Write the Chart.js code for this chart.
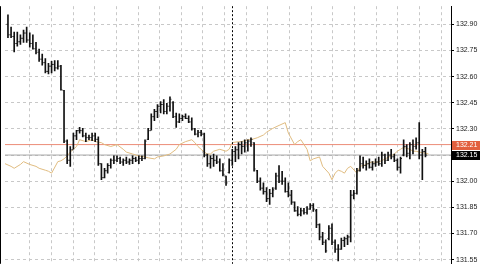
<!DOCTYPE html>
<html>
<head>
<meta charset="utf-8">
<script src="https://cdn.jsdelivr.net/npm/chart.js@4.4.0/dist/chart.umd.min.js"></script>
<style>
html,body{margin:0;padding:0;background:#fff;}
canvas{display:block;}
</style>
</head>
<body>
<canvas id="myChart" width="480" height="270"></canvas>
<script>
// OHLC bars, one per index
const highs = [132.955,132.884,132.856,132.856,132.840,132.867,132.884,132.851,132.840,132.796,
132.758,132.730,132.703,132.676,132.687,132.692,132.692,132.665,132.522,132.238,
132.199,132.276,132.292,132.309,132.303,132.276,132.265,132.276,132.276,132.254,
132.101,132.074,132.101,132.128,132.145,132.145,132.139,132.128,132.139,132.128,
132.145,132.139,132.145,132.145,132.238,132.303,132.386,132.413,132.440,132.457,
132.468,132.446,132.484,132.457,132.391,132.386,132.380,132.386,132.375,132.364,
132.303,132.292,132.292,132.276,132.156,132.145,132.156,132.145,132.128,132.101,
132.030,132.128,132.183,132.199,132.221,132.227,132.238,132.238,132.249,132.221,
132.063,132.019,131.991,131.964,131.953,131.964,132.046,132.090,132.057,132.019,
131.991,131.948,131.882,131.855,131.844,131.844,131.855,131.871,131.871,131.838,
131.756,131.707,131.663,131.745,131.756,131.663,131.636,131.674,131.680,131.691,
131.948,131.948,132.074,132.145,132.139,132.117,132.128,132.112,132.128,132.139,
132.167,132.156,132.167,132.183,132.156,132.128,132.139,132.238,132.210,132.221,
132.238,132.249,132.336,132.183,132.194];

const lows = [132.823,132.823,132.741,132.774,132.785,132.796,132.796,132.769,132.758,132.730,
132.687,132.665,132.621,132.615,132.621,132.632,132.643,132.522,132.221,132.101,
132.085,132.183,132.238,132.276,132.254,132.227,132.238,132.232,132.227,132.090,
132.008,132.019,132.046,132.074,132.101,132.112,132.101,132.090,132.101,132.096,
132.101,132.112,132.101,132.117,132.128,132.238,132.292,132.347,132.364,132.391,
132.386,132.386,132.402,132.364,132.309,132.336,132.347,132.358,132.336,132.292,
132.265,132.254,132.260,132.139,132.085,132.074,132.085,132.101,132.057,132.030,
131.975,132.046,132.090,132.112,132.128,132.156,132.167,132.172,132.199,132.057,
131.991,131.948,131.926,131.882,131.866,131.910,131.953,131.991,131.981,131.937,
131.910,131.866,131.827,131.800,131.800,131.811,131.811,131.838,131.827,131.734,
131.663,131.636,131.592,131.663,131.636,131.592,131.543,131.608,131.625,131.636,
131.652,131.898,131.926,132.057,132.074,132.063,132.074,132.063,132.085,132.090,
132.085,132.101,132.117,132.128,132.112,132.063,132.046,132.145,132.139,132.128,
132.156,132.183,132.128,132.008,132.139];

const opens = [132.90,132.84,132.83,132.79,132.80,132.82,132.85,132.81,132.79,132.76,
132.74,132.70,132.68,132.63,132.66,132.67,132.65,132.66,132.52,132.23,
132.12,132.18,132.26,132.29,132.29,132.26,132.25,132.25,132.26,132.24,
132.10,132.02,132.06,132.09,132.12,132.12,132.13,132.11,132.12,132.11,
132.12,132.13,132.12,132.13,132.13,132.24,132.29,132.37,132.40,132.43,
132.44,132.40,132.43,132.45,132.37,132.34,132.36,132.37,132.36,132.34,
132.30,132.27,132.28,132.27,132.15,132.10,132.13,132.12,132.11,132.06,
132.03,132.05,132.12,132.17,132.18,132.21,132.20,132.22,132.23,132.22,
132.06,132.00,131.96,131.94,131.90,131.93,131.96,132.03,132.00,132.00,
131.94,131.92,131.88,131.83,131.81,131.83,131.82,131.84,131.86,131.83,
131.75,131.68,131.65,131.67,131.73,131.65,131.61,131.61,131.66,131.67,
131.68,131.92,131.93,132.06,132.10,132.09,132.10,132.08,132.10,132.11,
132.10,132.15,132.12,132.15,132.14,132.12,132.08,132.15,132.20,132.16,
132.21,132.20,132.22,132.15,132.17];

const closes = [132.84,132.83,132.79,132.80,132.82,132.85,132.81,132.79,132.76,132.74,
132.70,132.68,132.63,132.66,132.67,132.65,132.66,132.525,132.23,132.12,
132.18,132.26,132.29,132.29,132.26,132.25,132.25,132.26,132.24,132.10,
132.02,132.06,132.09,132.12,132.12,132.13,132.11,132.12,132.11,132.12,
132.13,132.12,132.13,132.13,132.23,132.29,132.37,132.40,132.43,132.44,
132.40,132.43,132.47,132.37,132.34,132.36,132.37,132.36,132.34,132.30,
132.27,132.28,132.27,132.15,132.10,132.13,132.12,132.11,132.06,132.04,
131.99,132.12,132.17,132.18,132.21,132.20,132.22,132.23,132.24,132.07,
132.00,131.96,131.94,131.90,131.93,131.95,132.03,132.00,132.00,131.94,
131.92,131.88,131.83,131.81,131.83,131.82,131.84,131.86,131.84,131.75,
131.68,131.65,131.60,131.73,131.65,131.61,131.61,131.66,131.67,131.68,
131.92,131.93,132.06,132.10,132.09,132.10,132.08,132.10,132.11,132.10,
132.15,132.12,132.15,132.14,132.12,132.08,132.13,132.20,132.16,132.21,
132.20,132.22,132.15,132.17,132.15];

// overlay line (second symbol / indicator)
const lineIdx = [-1,1,2,4,5,7,9,10,12,13,14,16,17,18,19,20,22,23,25,27,28,30,31,33,35,37,38,40,42,44,
45,47,48,50,52,54,55,57,59,60,61,63,64,65,66,68,70,71,72,74,75,77,78,80,82,83,85,87,89,90,
92,93,94,96,97,98,100,101,103,104,105,106,107,108,109,110,112,113,115,117,118,120,121,123,124,125,126,127,129,130,
131,132,134,135];
const lineVal = [132.101,132.085,132.074,132.096,132.112,132.096,132.085,132.074,132.063,132.057,
132.046,132.112,132.117,132.128,132.145,132.167,132.199,132.238,132.227,132.238,
132.227,132.221,132.210,132.199,132.210,132.183,132.167,132.156,132.145,132.139,
132.134,132.128,132.139,132.145,132.156,132.183,132.210,132.227,132.238,132.221,
132.199,132.167,132.156,132.156,132.172,132.183,132.172,132.183,132.221,132.227,
132.227,132.238,132.238,132.249,132.265,132.281,132.303,132.320,132.336,132.276,
132.210,132.227,132.238,132.183,132.117,132.128,132.139,132.085,132.046,132.008,
132.046,132.063,132.057,132.046,132.074,132.085,132.046,132.085,132.096,132.112,
132.107,132.117,132.128,132.145,132.156,132.172,132.183,132.194,132.183,132.172,
132.172,132.167,132.161,132.156];

const yTicks = [131.55,131.70,131.85,132.00,132.15,132.30,132.45,132.60,132.75,132.90];
const askPrice = 132.21;
const bidPrice = 132.15;
const markerIdx = 71.75;

const xMin = -0.95, xMax = 142.2;
const yMin = 131.526, yMax = 133.004;

const rangeData = highs.map((h, i) => ({x: i, y: [lows[i], h]}));
const openData = opens.map((v, i) => ({x: i - 0.3, y: v}));
const closeData = closes.map((v, i) => ({x: i + 0.3, y: v}));
const overlayData = lineIdx.map((x, i) => ({x: x, y: lineVal[i]}));

const extras = {
    id: 'extras',
    afterDatasetsDraw(chart) {
        const ctx = chart.ctx;
        const xs = chart.scales.x, ys = chart.scales.y;
        const a = chart.chartArea;
        ctx.save();
        // period separator
        const px = Math.round(xs.getPixelForValue(markerIdx)) + 0.5;
        ctx.strokeStyle = '#000';
        ctx.lineWidth = 1;
        ctx.setLineDash([2, 2]);
        ctx.beginPath();
        ctx.moveTo(px, a.top);
        ctx.lineTo(px, a.bottom);
        ctx.stroke();
        ctx.setLineDash([]);
        // left frame
        ctx.beginPath();
        ctx.moveTo(0.5, a.top);
        ctx.lineTo(0.5, a.bottom);
        ctx.stroke();
        // price boxes
        ctx.font = '7px "Liberation Sans"';
        ctx.textBaseline = 'middle';
        [[askPrice, '#e2603f'], [bidPrice, '#000']].forEach(([p, c]) => {
            const py = Math.round(ys.getPixelForValue(p));
            ctx.fillStyle = c;
            ctx.fillRect(a.right + 1, py - 4, 480 - a.right - 1, 9);
            ctx.fillStyle = '#fff';
            ctx.fillText(p.toFixed(2), a.right + 5, py + 0.5);
        });
        ctx.restore();
    }
};

const conf = {
    type: 'bar',
    data: {
        datasets: [
            {
                type: 'bar',
                data: rangeData,
                backgroundColor: '#111',
                borderWidth: 0,
                barThickness: 1
            },
            {
                type: 'line',
                data: openData,
                showLine: false,
                pointStyle: 'line',
                pointRadius: 0.5,
                pointBorderWidth: 1,
                pointBorderColor: '#222'
            },
            {
                type: 'line',
                data: closeData,
                showLine: false,
                pointStyle: 'line',
                pointRadius: 0.5,
                pointBorderWidth: 1,
                pointBorderColor: '#222'
            },
            {
                type: 'line',
                data: overlayData,
                borderColor: '#e0bc80',
                borderWidth: 1,
                pointRadius: 0,
                tension: 0
            },
            {
                type: 'line',
                data: [{x: xMin, y: askPrice}, {x: xMax, y: askPrice}],
                borderColor: '#ec8c78',
                borderWidth: 1,
                pointRadius: 0
            },
            {
                type: 'line',
                data: [{x: xMin, y: bidPrice}, {x: xMax, y: bidPrice}],
                borderColor: '#a8a8a8',
                borderWidth: 1,
                pointRadius: 0
            }
        ]
    },
    options: {
        responsive: false,
        animation: false,
        devicePixelRatio: 1,
        layout: {padding: 0},
        plugins: {
            legend: {display: false},
            tooltip: {enabled: false}
        },
        scales: {
            x: {
                type: 'linear',
                min: xMin,
                max: xMax,
                offset: false,
                afterBuildTicks: s => {
                    const t = [];
                    for (let k = 0; k < 20; k++) t.push({value: 7 + 6.95 * k});
                    s.ticks = t;
                },
                afterFit: s => { s.height = 0; },
                ticks: {display: false},
                grid: {color: '#c8c8c8', drawTicks: false, offset: false},
                border: {display: false, dash: [3, 3]}
            },
            y: {
                type: 'linear',
                position: 'right',
                min: yMin,
                max: yMax,
                afterBuildTicks: s => { s.ticks = yTicks.map(v => ({value: v})); },
                afterFit: s => { s.width = 29; },
                ticks: {
                    color: '#222',
                    padding: 2,
                    font: {family: 'Liberation Sans', size: 7},
                    callback: v => v.toFixed(2)
                },
                grid: {color: '#c8c8c8', tickLength: 3, tickColor: '#000'},
                border: {display: true, color: '#000', width: 1, dash: [3, 3]}
            }
        }
    },
    plugins: [extras]
};

const ctx = document.getElementById('myChart').getContext('2d');
const chart = new Chart(ctx, conf);
</script>
</body>
</html>
